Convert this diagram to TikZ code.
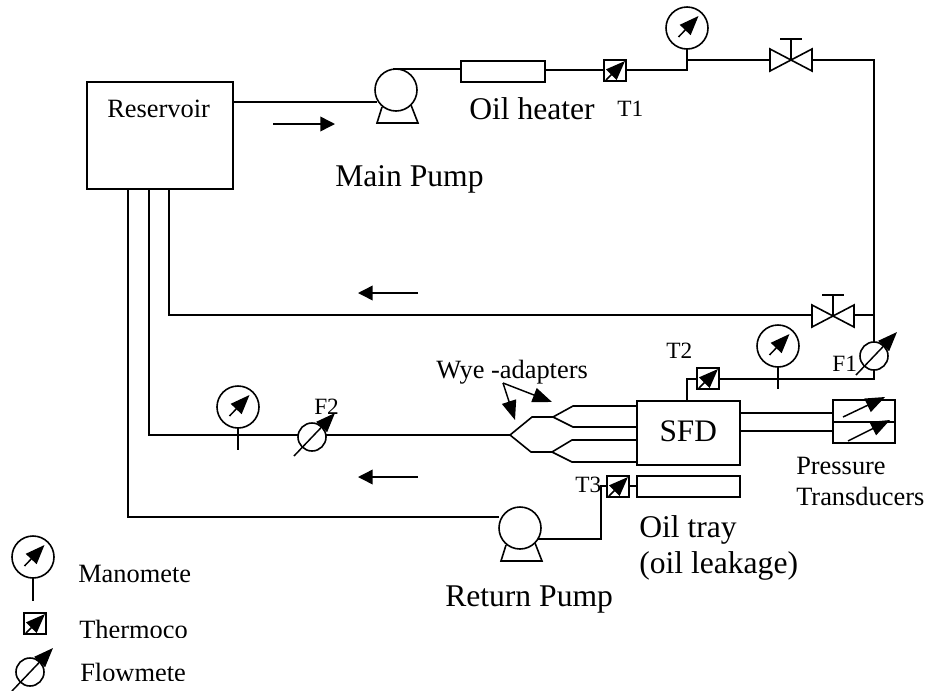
\documentclass[tikz,border=0pt]{standalone}
\usepackage{fontspec}
\setmainfont{Liberation Serif}
\usetikzlibrary{arrows.meta}
\tikzset{
 pipe/.style={draw=black,line width=1.2pt},
 inst/.style={draw=black,line width=1.2pt,fill=white},
 pointer/.style={draw=black,line width=1.1pt,-{Triangle[length=14.5pt,width=11pt]}},
 flowarrow/.style={draw=black,line width=1.1pt,-{Triangle[length=11pt,width=11pt]}},
 big/.style={font=\fontsize{23.7pt}{26pt}\selectfont,anchor=base west,inner sep=0pt},
 mid/.style={font=\fontsize{17.5pt}{20pt}\selectfont,anchor=base west,inner sep=0pt},
 small/.style={font=\fontsize{19.8pt}{22pt}\selectfont,anchor=base west,inner sep=0pt,align=left},
}
\newcommand{\manometer}[3]{%
 \draw[pipe] (#1,#2+21) -- (#1,#2+21+#3);
 \draw[inst] (#1,#2) circle[radius=15.75pt];
 \draw[pointer] (#1-8.5,#2+9) -- (#1+11.5,#2-12);
}
\newcommand{\flowmeter}[2]{%
 \draw[inst] (#1,#2) circle[radius=10.5pt];
 \draw[pointer] (#1-18,#2+19) -- (#1+23,#2-24);
}
\newcommand{\thermo}[2]{%
 \draw[inst] (#1,#2) rectangle +(22,21);
 \draw[pointer] (#1+2,#2+20) -- (#1+21,#2+1);
}
\newcommand{\valve}[2]{%
 \draw[inst] (#1-21,#2-11) -- (#1+21,#2+11) -- (#1+21,#2-11) -- (#1-21,#2+11) -- cycle;
 \draw[pipe] (#1,#2) -- (#1,#2-21) (#1-11,#2-21) -- (#1+11,#2-21);
}
\newcommand{\pump}[2]{%
 \draw[inst] (#1-14,#2+17) -- (#1-19,#2+33) -- (#1+22,#2+33) -- (#1+15,#2+15);
 \draw[inst] (#1,#2) circle[radius=15.75pt];
}
\begin{document}
\begin{tikzpicture}[x=0.75pt,y=-0.75pt]
\useasboundingbox (0,0) rectangle (928,690);
% pipes
\node[draw=black,line width=1.2pt,minimum width=109.5pt,minimum height=80.25pt,anchor=north west,inner sep=0pt] (res) at (86,81) {};
\draw[pipe] (232,102) -- (377,102);
\draw[pipe] (393,69) -- (460,69);
\node[draw=black,line width=1.2pt,minimum width=63pt,minimum height=15.75pt,anchor=north west,inner sep=0pt] (heater) at (460,60) {};
\draw[pipe] (544,70) -- (604,70) (626,70) -- (687,70) -- (687,49);
\draw[pipe] (687,60) -- (770,60) (812,60) -- (874,60) -- (874,342);
\draw[pipe] (874,370) -- (874,379) -- (719,379);
\draw[pipe] (697,379) -- (687,379) -- (687,400);
\draw[pipe] (853,315) -- (874,315);
\draw[pipe] (169,188) -- (169,315) -- (812,315);
\draw[pipe] (149,188) -- (149,435) -- (510,435);
\draw[pipe] (128,188) -- (128,517) -- (499,517);
\draw[pipe] (510,435) -- (532,417) -- (553,417) -- (573,406) -- (636,406);
\draw[pipe] (553,417) -- (573,427) -- (636,427);
\draw[pipe] (510,435) -- (531,452) -- (552,452) -- (572,440) -- (636,440);
\draw[pipe] (552,452) -- (572,462) -- (636,462);
\draw[pipe] (739,413) -- (833,413) (739,431) -- (833,431);
\draw[pipe] (628,486) -- (636,486) (607,486) -- (601,486) -- (601,539) -- (535,539);
% boxes
\node[draw=black,line width=1.2pt,fill=white,minimum width=77.25pt,minimum height=48pt,anchor=north west,inner sep=0pt,text depth=3pt,font=\fontsize{23.5pt}{26pt}\selectfont] (sfd) at (636,400) {SFD};
\node[draw=black,line width=1.2pt,minimum width=77.25pt,minimum height=15.75pt,anchor=north west,inner sep=0pt] (tray) at (636,475) {};
\draw[inst] (833,400) rectangle (895,443);
\draw[pipe] (833,422) -- (895,422);
\draw[pointer] (843,417) -- (885,397);
\draw[pointer] (848,441) -- (890,420);
% instruments
\pump{396}{90}
\pump{520}{528}
\thermo{604}{60}
\thermo{697}{368}
\thermo{607}{476}
\manometer{687}{28}{0}
\manometer{778}{346}{22}
\manometer{238}{407}{22}
\valve{791}{60}
\valve{833}{316}
\flowmeter{874}{356}
\flowmeter{312}{437}
% flow arrows
\draw[flowarrow] (273,124) -- (335,124);
\draw[flowarrow] (418,293) -- (358,293);
\draw[flowarrow] (418,477) -- (358,477);
% wye pointers
\draw[pointer] (503,383) -- (515,420);
\draw[pointer] (503,383) -- (552,402);
% legend
\manometer{33}{557}{23}
\thermo{24}{613}
\flowmeter{30}{672}
% text
\node[small] (t0) at (107,117) {Reservoir};
\node[big] (t1) at (469,119) {Oil heater};
\node[mid] (t2) at (617,116) {T1};
\node[big] (t3) at (335,186) {Main Pump};
\node[small] (t4) at (436,378) {Wye -adapters};
\node[mid] (t5) at (666,358) {T2};
\node[mid] (t6) at (832,371) {F1};
\node[mid] (t7) at (314,414) {F2};
\node[mid] (t8) at (575,492) {T3};
\node[small] (t9) at (796,474) {Pressure};
\node[small] (t10) at (796,505) {Transducers};
\node[big] (t11) at (639,537) {Oil tray};
\node[big] (t12) at (639,573) {(oil leakage)};
\node[big] (t13) at (445,606) {Return Pump};
\node[small] (t14) at (78,582) {Manomete};
\begin{scope}
\clip (70,610) rectangle (230,637);
\node[small] (t15) at (79,638) {Thermoco};
\end{scope}
\begin{scope}
\clip (70,650) rectangle (230,680);
\node[small] (t16) at (80,681) {Flowmete};
\end{scope}
\end{tikzpicture}
\end{document}
